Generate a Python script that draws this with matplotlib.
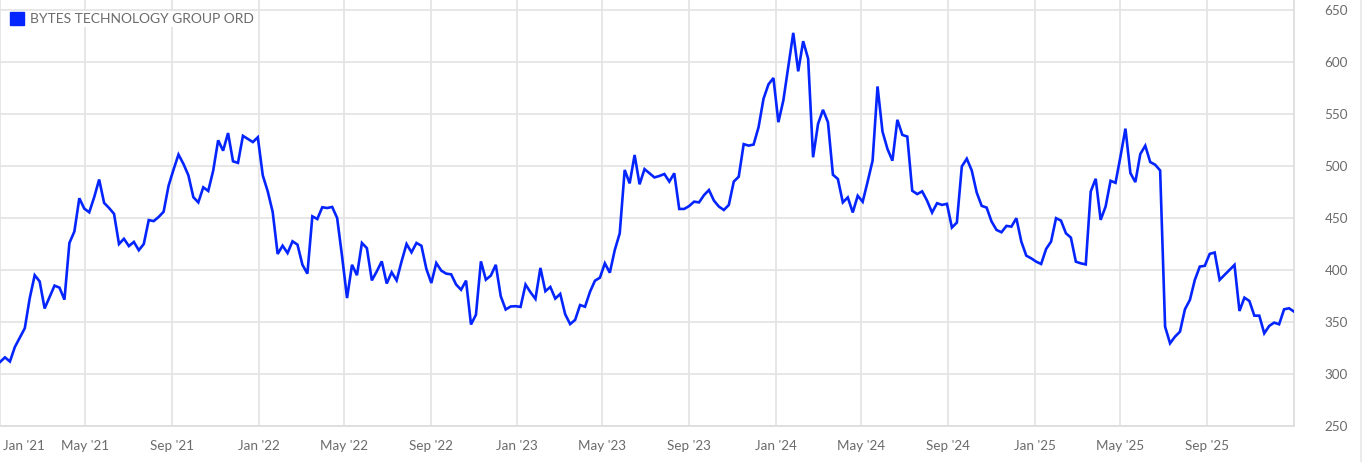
import matplotlib
matplotlib.use("Agg")
import matplotlib.pyplot as plt
from matplotlib.patches import Rectangle
import pandas as pd

# weekly closes (GBp), first week 2021-01-01
START = "2021-01-01"
PRICES = [
    311.5, 316, 312, 326, 335, 344, 373, 395, 389, 363,
    374, 385, 383, 371.5, 426, 437, 469, 459, 455.5, 470,
    487, 464.5, 459.6, 454, 425, 430, 423, 427, 419, 425,
    448, 447, 451, 456, 481, 496.5, 511, 502, 491, 470,
    465, 479.5, 476, 495.5, 524.7, 514.7, 531.7, 504.5, 503, 529,
    526, 523, 527.6, 491, 475.6, 455.8, 415.4, 423.4, 416.3, 427.6,
    424.4, 405, 396.5, 451.6, 449, 460.3, 459.6, 460.6, 450, 413,
    373, 405, 395, 426, 421, 390, 398.7, 408.3, 387, 397.8,
    390, 408.3, 425, 417, 426, 423.3, 401, 387.5, 406.7, 399.4,
    396.5, 395.8, 386, 381, 389.8, 347.6, 357, 408.3, 390.7, 394.6,
    405, 374.8, 362, 364.9, 365.2, 364.5, 386, 378.6, 372.2, 402,
    379.6, 383.7, 372.5, 377, 357.4, 348, 352, 366.3, 364.7, 379,
    389.7, 392.6, 406.4, 397.4, 419.2, 435.3, 496.2, 483.3, 510.6, 482.4,
    497, 493, 489, 490.4, 492.3, 485, 493, 458.7, 458.7, 461.5,
    465.7, 465, 472, 476.9, 466.7, 461, 457.7, 462.5, 485, 489.7,
    521, 519.6, 520.6, 537.3, 564.6, 578.5, 584.6, 542.1, 563, 595.2,
    628, 591, 620, 603.2, 508.4, 540.5, 554, 542.1, 491.6, 487.5,
    465, 469.8, 455.3, 471.4, 465.6, 484.9, 505.1, 576.5, 533.1, 516.4,
    505.1, 544.4, 529.9, 528.3, 476.2, 473, 475.6, 466.6, 455.2, 464.2,
    462.6, 463.6, 440.8, 445.6, 499.6, 507, 495.7, 474.5, 461.7, 460,
    446.6, 438.5, 436.3, 442.4, 441.7, 449.8, 427.3, 413.8, 411.2, 408,
    405.8, 420.2, 427.3, 449.8, 447.5, 435.3, 431.1, 408, 406.4, 405.4,
    475.5, 487.7, 448.2, 461, 485.8, 483.8, 509.2, 535.9, 493.2, 484.5,
    511.5, 519.5, 503.8, 501.2, 495.7, 345.5, 329.5, 335.9, 340.7, 362.2,
    371.2, 390.5, 403.3, 404, 415.5, 416.8, 390.5, 395.3, 400.1, 404.9,
    360.6, 373.4, 370.2, 356.1, 356.1, 339.1, 346.2, 349.4, 347.8, 362.2,
    363.2, 360,
]
SERIES_NAME = "BYTES TECHNOLOGY GROUP ORD"
X_TICK_LABELS = ["Jan '21", "May '21", "Sep '21", "Jan '22", "May '22", "Sep '22",
                 "Jan '23", "May '23", "Sep '23", "Jan '24", "May '24", "Sep '24",
                 "Jan '25", "May '25", "Sep '25"]
Y_TICKS = [250, 300, 350, 400, 450, 500, 550, 600, 650]

BLUE = "#0525ff"
GRID = "#e3e3e3"
TEXT = "#6b6b6b"
LABEL_SIZE = 9.7

plt.rcParams["font.family"] = ["Lato", "DejaVu Sans"]

W, H = 1372, 462
fig = plt.figure(figsize=(W / 100, H / 100), dpi=100)
ax = fig.add_axes([0, 36 / H, 1294 / W, 426 / H])

dates = pd.date_range(START, periods=len(PRICES), freq="7D")
ax.plot(dates, PRICES, color=BLUE, lw=1.9, solid_joinstyle="miter", zorder=3)

ax.set_xlim(pd.Timestamp(START), pd.Timestamp("2026-01-02"))
ax.set_ylim(250, 659.6)

tick_dates = pd.date_range(START, periods=len(X_TICK_LABELS), freq="4MS")
ax.set_xticks(tick_dates)
# first label sits at the left edge, so it is drawn left-aligned by hand
ax.set_xticklabels([""] + X_TICK_LABELS[1:])
ax.annotate(X_TICK_LABELS[0], xy=(tick_dates[0], 0),
            xycoords=("data", "axes fraction"), xytext=(2.2, -10),
            textcoords="offset points", ha="left", va="top",
            fontsize=LABEL_SIZE, color=TEXT)
ax.set_yticks(Y_TICKS)
ax.yaxis.tick_right()
ax.tick_params(axis="both", length=0, labelsize=LABEL_SIZE, labelcolor=TEXT)
ax.tick_params(axis="x", pad=10)
ax.tick_params(axis="y", pad=22)

ax.grid(True, color=GRID, lw=1.2)
ax.set_axisbelow(True)
for side in ["top", "left"]:
    ax.spines[side].set_visible(False)
for side in ["bottom", "right"]:
    ax.spines[side].set_color("#dcdcdc")
    ax.spines[side].set_linewidth(1.2)

# legend swatch + label, top-left
fig.patches.append(Rectangle((10 / W, 1 - 25 / H), 14 / W, 13 / H,
                             transform=fig.transFigure, color=BLUE, zorder=5))
fig.text(30 / W, 1 - 19 / H, SERIES_NAME, color=TEXT, fontsize=10,
         va="center", ha="left", zorder=5,
         bbox=dict(fc="white", ec="none", pad=1.5))

# thin frame line at the far right
fig.add_artist(plt.Line2D([1361 / W, 1361 / W], [0, 1], transform=fig.transFigure,
                          color="#e8e8e8", lw=1.2))

fig.savefig("out.png", dpi=100)
